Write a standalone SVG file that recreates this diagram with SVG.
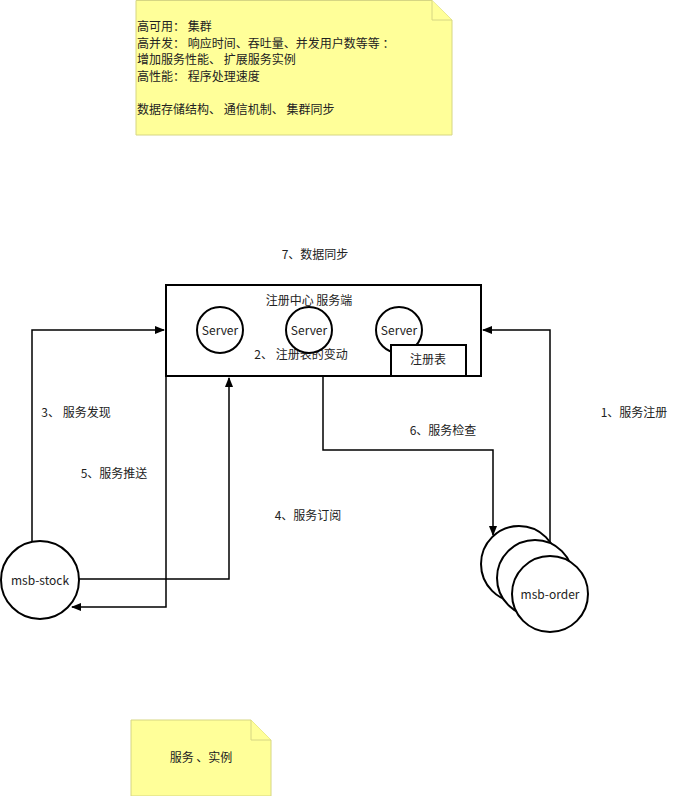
<svg xmlns="http://www.w3.org/2000/svg" width="673" height="796" viewBox="0 0 673 796" xml:space="preserve">
<defs>
<style>
text{font-family:"Noto Sans CJK SC","Liberation Sans",sans-serif;font-size:12px;fill:#222}
.n{fill:#ffff99;stroke:#d6d683}
.s{fill:#fff;stroke:#000;stroke-width:2}
.c{fill:none;stroke:#000;stroke-width:1.5}
</style>
<marker id="a" viewBox="0 0 10 10" refX="9" refY="5" markerWidth="7" markerHeight="7" orient="auto"><path d="M0,1 L10,5 L0,9 z" fill="#000"/></marker>
</defs>
<rect width="673" height="796" fill="#fff"/>
<g id="note1">
<path class="n" d="M136,0.5 H432 L452,20 V135 H136 Z"/>
<path class="n" d="M432,0.5 V20 H452"/>
<text x="137" y="31" font-size="11.5">高可用：   集群</text>
<text x="137" y="48" font-size="11.5">高并发：  响应时间、吞吐量、并发用户数等等  ：</text>
<text x="137" y="64" font-size="11.5">增加服务性能、  扩展服务实例</text>
<text x="137" y="81" font-size="11.5">高性能：  程序处理速度</text>
<text x="137" y="114" font-size="11.5">数据存储结构、  通信机制、  集群同步</text>
</g>
<g id="note2">
<path class="n" d="M131,720 H251 L271,740 V796 H131 Z"/>
<path class="n" d="M251,720 V740 H271"/>
<text x="201" y="762" text-anchor="middle">服务 、实例</text>
</g>
<text x="315" y="259" text-anchor="middle">7、数据同步</text>
<g id="registry">
<rect class="s" x="166" y="285" width="315" height="91"/>
<text x="309" y="305" text-anchor="middle">注册中心  服务端</text>
<text x="301" y="359" text-anchor="middle">2、  注册表的变动</text>
</g>
<g id="server1"><circle class="s" cx="220" cy="330" r="23"/><text x="220" y="335" text-anchor="middle" font-size="13">Server</text></g>
<g id="server2"><circle class="s" cx="309" cy="330" r="23"/><text x="309" y="335" text-anchor="middle" font-size="13">Server</text></g>
<g id="server3"><circle class="s" cx="399" cy="330" r="23"/><text x="399" y="335" text-anchor="middle" font-size="13">Server</text></g>
<g id="table"><rect class="s" x="391" y="345" width="75" height="31"/><text x="428" y="364" text-anchor="middle">注册表</text></g>
<g id="connectors">
<path class="c" d="M550,555 V330 H483" marker-end="url(#a)"/>
<path class="c" d="M32,541 V330 H164" marker-end="url(#a)"/>
<path class="c" d="M79,579 H229 V378" marker-end="url(#a)"/>
<path class="c" d="M166,376 V607 H72" marker-end="url(#a)"/>
<path class="c" d="M323,376 V450 H493 V535" marker-end="url(#a)"/>
</g>
<text x="634" y="417" text-anchor="middle">1、服务注册</text>
<text x="76" y="417" text-anchor="middle">3、  服务发现</text>
<text x="114" y="478" text-anchor="middle">5、服务推送</text>
<text x="308" y="520" text-anchor="middle">4、服务订阅</text>
<text x="443" y="435" text-anchor="middle">6、服务检查</text>
<g id="stock"><circle class="s" cx="40" cy="580" r="39"/><text x="40" y="585" text-anchor="middle" font-size="13">msb-stock</text></g>
<g id="order">
<circle class="s" cx="519" cy="564" r="38"/>
<circle class="s" cx="535" cy="578" r="38"/>
<circle class="s" cx="550" cy="594" r="38"/>
<text x="550" y="599" text-anchor="middle" font-size="13">msb-order</text>
</g>
</svg>
